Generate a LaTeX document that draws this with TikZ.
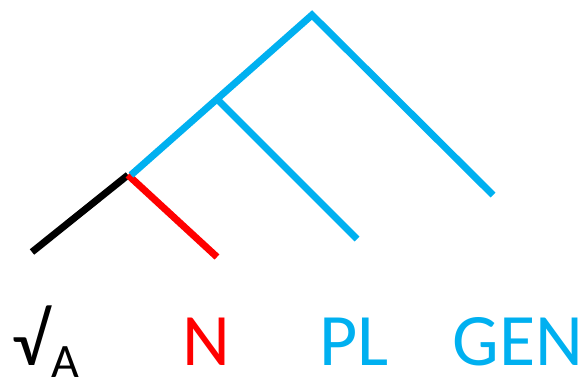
\documentclass[tikz,border=0pt]{standalone}
\usepackage{fontspec}
\setmainfont{Carlito}
\usepackage{xcolor}
\usetikzlibrary{positioning}
\definecolor{treeblue}{HTML}{00B0F0}
\definecolor{treered}{HTML}{FF0000}
\tikzset{
  branch/.style={line width=7pt},
  label/.style={anchor=base,inner sep=0pt,font=\fontsize{74}{80}\selectfont},
  sublabel/.style={anchor=base,inner sep=0pt,font=\fontsize{48}{52}\selectfont}
}

\begin{document}
\begin{tikzpicture}[x=1pt,y=-1pt]
  \useasboundingbox (0,0) rectangle (585,383);

  \coordinate (rootend) at (32,252);
  \coordinate (nodeN) at (128,175);
  \coordinate (nend) at (217,257);
  \coordinate (nodePL) at (217,99);
  \coordinate (plend) at (357,239);
  \coordinate (top) at (312,15);
  \coordinate (genend) at (493,195);

  \draw[branch,black] (rootend) -- (nodeN);
  \draw[branch,treered] (nodeN) -- (nend);
  \draw[branch,treeblue,line join=miter] ([xshift=3pt]nodeN) -- (nodePL) -- (top) -- (genend);
  \draw[branch,treeblue] (nodePL) -- (plend);

  \node[label] (root) at (31,365) {√};
  \node[sublabel] (rootsub) at (65,377) {A};
  \node[label,text=treered] (n) at (206,365) {N};
  \node[label,text=treeblue] (pl) at (354,365) {PL};
  \node[label,text=treeblue] (gen) at (518,365) {GEN};
\end{tikzpicture}
\end{document}
